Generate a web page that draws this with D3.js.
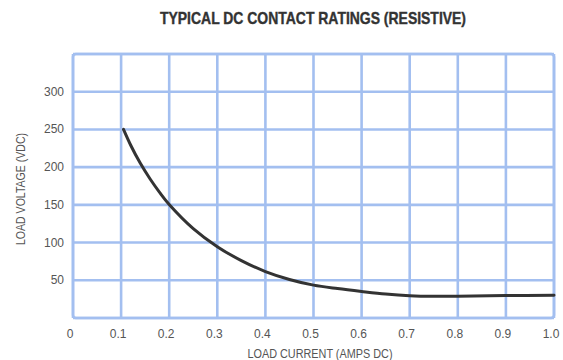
<!DOCTYPE html>
<html><head><meta charset="utf-8">
<script src="https://cdn.jsdelivr.net/npm/d3@7"></script>
<style>body{margin:0;background:#fff}svg{display:block}</style>
</head><body>
<svg id="c" width="563" height="360"></svg>
<script>
const title = "TYPICAL DC CONTACT RATINGS (RESISTIVE)";
const xLabel = "LOAD CURRENT (AMPS DC)";
const yLabel = "LOAD VOLTAGE (VDC)";
const xTicks = [0,0.1,0.2,0.3,0.4,0.5,0.6,0.7,0.8,0.9,1.0];
const xTickLabels = ["0","0.1","0.2","0.3","0.4","0.5","0.6","0.7","0.8","0.9","1.0"];
const yGrid = [0,50,100,150,200,250,300,350];
const yTickValues = [50,100,150,200,250,300];
const current = [0.105,0.12,0.14,0.16,0.18,0.2,0.25,0.3,0.35,0.4,0.45,0.5,0.55,0.6,0.65,0.7,0.75,0.8,0.9,1.0];
const voltage = [250,229,205,184.6,166.6,150.6,118.6,94.6,76.1,61.6,51.1,43.6,39,35.2,31.8,29.6,28.8,29,29.8,30.2];

const svg = d3.select("#c");
const x = d3.scaleLinear().domain([0,1]).range([73,554]);
const y = d3.scaleLinear().domain([0,350]).range([318,54]);
const gridColor = "#a3bff0";
const g = svg.append("g");

g.selectAll("line.v").data(xTicks).join("line")
  .attr("x1",d=>x(d)).attr("x2",d=>x(d))
  .attr("y1",y(0)).attr("y2",y(350))
  .attr("stroke",gridColor).attr("stroke-width",2.6);
g.selectAll("line.h").data(yGrid).join("line")
  .attr("x1",x(0)).attr("x2",x(1))
  .attr("y1",d=>y(d)).attr("y2",d=>y(d))
  .attr("stroke",gridColor).attr("stroke-width",2.6);
g.append("rect").attr("x",x(0)).attr("y",y(350))
  .attr("width",x(1)-x(0)).attr("height",y(0)-y(350))
  .attr("rx",3).attr("fill","none").attr("stroke",gridColor).attr("stroke-width",2.6);

const data = current.map((c,i)=>({c, v:voltage[i]}));
svg.append("path").datum(data)
  .attr("d", d3.line().x(d=>x(d.c)).y(d=>y(d.v)).curve(d3.curveCatmullRom.alpha(0.5)))
  .attr("fill","none").attr("stroke","#333").attr("stroke-width",3).attr("stroke-linecap","round");

const font = "'Liberation Sans', Arial, sans-serif";
svg.selectAll("text.yt").data(yTickValues).join("text")
  .attr("x",64).attr("y",d=>y(d)+4)
  .attr("text-anchor","end").attr("font-family",font).attr("font-size",12)
  .attr("fill","#555").text(d=>d);
svg.selectAll("text.xt").data(xTicks).join("text")
  .attr("x",d=>x(d)-3).attr("y",338)
  .attr("text-anchor","middle").attr("font-family",font).attr("font-size",12)
  .attr("fill","#555").text((d,i)=>xTickLabels[i]);
svg.append("text").attr("x",320).attr("y",358).attr("text-anchor","middle")
  .attr("font-family",font).attr("font-size",12).attr("fill","#555")
  .attr("textLength",145).attr("lengthAdjust","spacingAndGlyphs").text(xLabel);
svg.append("text").attr("transform","translate(25,189) rotate(-90)").attr("text-anchor","middle")
  .attr("font-family",font).attr("font-size",12).attr("fill","#555")
  .attr("textLength",112).attr("lengthAdjust","spacingAndGlyphs").text(yLabel);
svg.append("text").attr("x",313).attr("y",24).attr("text-anchor","middle")
  .attr("font-family",font).attr("font-size",17).attr("font-weight","bold").attr("fill","#333")
  .attr("stroke","#333").attr("stroke-width",0.4)
  .attr("textLength",306).attr("lengthAdjust","spacingAndGlyphs").text(title);
</script>
</body></html>
